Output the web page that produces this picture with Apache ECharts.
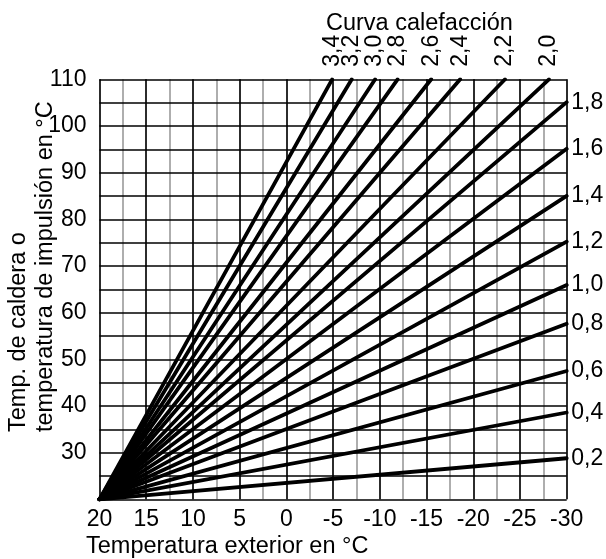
<!DOCTYPE html>
<html>
<head>
<meta charset="utf-8">
<script src="https://cdn.jsdelivr.net/npm/echarts@6/dist/echarts.min.js"></script>
<style>
html,body{margin:0;padding:0;background:#fff;}
#chart{width:606px;height:559px;}
</style>
</head>
<body>
<div id="chart"></div>
<script>
// Heating curves: each runs from (20 °C outdoor, 20 °C flow) to its end point
const curveNames   = ['0,2','0,4','0,6','0,8','1,0','1,2','1,4','1,6','1,8','2,0','2,2','2,4','2,6','2,8','3,0','3,2','3,4'];
const endOutdoor   = [-30, -30, -30, -30, -30, -30, -30, -30, -30, -28.1, -23.4, -18.6, -15.5, -11.9, -9.5, -7.0, -4.9];
const endFlow      = [28.8, 38.6, 47.5, 57.6, 65.9, 75.2, 85.0, 95.1, 105.1, 110, 110, 110, 110, 110, 110, 110, 110];
const startOutdoor = 20;
const startFlow    = 20;
const xTickLabels  = [20, 15, 10, 5, 0, -5, -10, -15, -20, -25, -30];
const yTickLabels  = [30, 40, 50, 60, 70, 80, 90, 100, 110];

const FONT = 'Liberation Sans, Arial, sans-serif';
const FS = 23;      // tick / curve labels
const FT = 23.5;    // titles

const series = curveNames.map((name, i) => {
  const onTop = endFlow[i] >= 110;
  return {
    type: 'line',
    name: name,
    xAxisIndex: 0,
    yAxisIndex: 0,
    symbol: 'circle',
    symbolSize: 1,
    showSymbol: true,
    silent: true,
    animation: false,
    z: 5,
    lineStyle: {color: '#000', width: 3.8, cap: 'round'},
    itemStyle: {color: '#000'},
    data: [
      {value: [startOutdoor, startFlow], label: {show: false}},
      {value: [endOutdoor[i], endFlow[i]], label: onTop ? {
        show: true, formatter: name, position: 'top', distance: 12, rotate: 90,
        align: 'left', verticalAlign: 'middle',
        fontFamily: FONT, fontSize: FS, color: '#000'
      } : {
        show: true, formatter: name, position: 'right', distance: 4,
        align: 'left', verticalAlign: 'middle',
        fontFamily: FONT, fontSize: FS, color: '#000'
      }}
    ]
  };
});

const chart = echarts.init(document.getElementById('chart'), null, {renderer: 'canvas'});
chart.setOption({
  animation: false,
  backgroundColor: '#fff',
  title: {
    text: 'Curva calefacción', left: 321, top: 7,
    textStyle: {fontFamily: FONT, fontSize: FT, fontWeight: 'normal', color: '#000'}
  },
  grid: {left: 99.5, right: 39.3, top: 79.3, bottom: 59.7, containLabel: false},
  xAxis: [{
    type: 'value', min: -30, max: 20, interval: 2.5, inverse: true, z: 0,
    axisLine: {show: false}, axisTick: {show: false},
    axisLabel: {
      margin: 9, fontFamily: FONT, fontSize: FS, color: '#000',
      formatter: v => xTickLabels.indexOf(v) >= 0 ? String(v) : ''
    },
    splitLine: {show: true, lineStyle: {color: '#939393', width: 1.5}}
  }, {
    type: 'value', min: -30, max: 20, interval: 5, inverse: true, z: 1,
    position: 'bottom',
    axisLine: {show: false}, axisTick: {show: false}, axisLabel: {show: false},
    splitLine: {show: true, lineStyle: {color: '#000', width: 1.5}}
  }],
  yAxis: {
    type: 'value', min: 20, max: 110, interval: 5, z: 1,
    axisLine: {show: false}, axisTick: {show: false},
    axisLabel: {
      margin: 13, fontFamily: FONT, fontSize: FS, color: '#000',
      formatter: v => yTickLabels.indexOf(v) >= 0 ? String(v) : ''
    },
    splitLine: {show: true, lineStyle: {color: '#000', width: 1.5}}
  },
  graphic: [
    {type: 'text', x: 19, y: 432, rotation: Math.PI / 2, silent: true,
     style: {text: 'Temp. de caldera o', font: FT + 'px ' + FONT, fill: '#000', textAlign: 'left', textVerticalAlign: 'middle'}},
    {type: 'text', x: 46, y: 432, rotation: Math.PI / 2, silent: true,
     style: {text: 'temperatura de impulsión en °C', font: FT + 'px ' + FONT, fill: '#000', textAlign: 'left', textVerticalAlign: 'middle'}},
    {type: 'text', x: 86, y: 547, silent: true,
     style: {text: 'Temperatura exterior en °C', font: FT + 'px ' + FONT, fill: '#000', textAlign: 'left', textVerticalAlign: 'middle'}}
  ],
  series: series
});
</script>
</body>
</html>
